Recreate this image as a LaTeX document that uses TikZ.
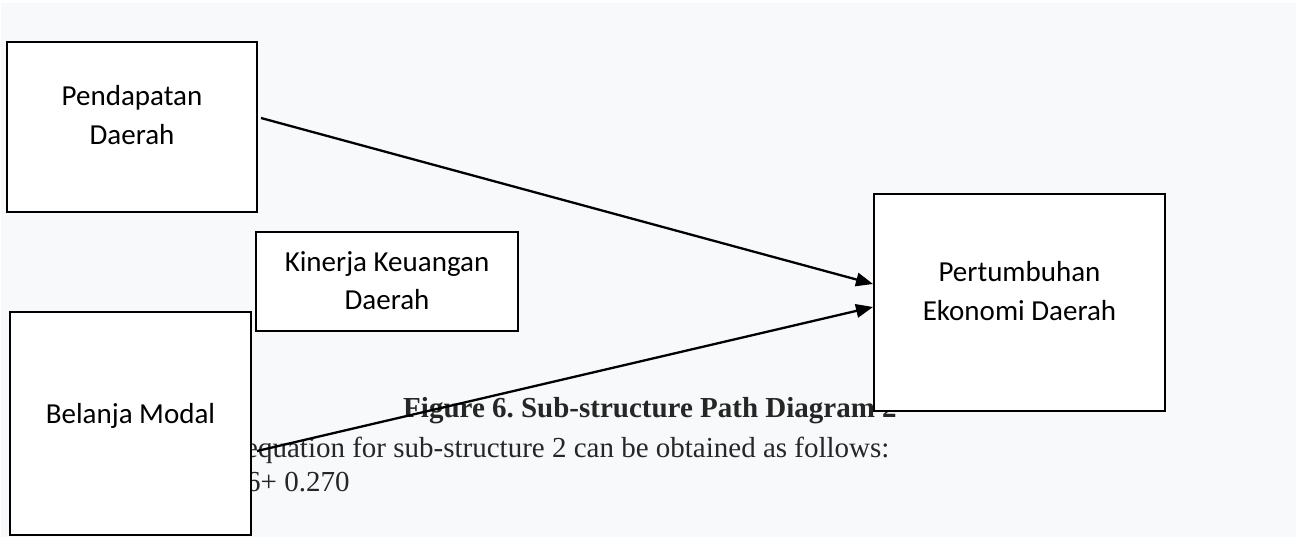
\documentclass[tikz,border=0pt]{standalone}
\usepackage{fontspec}
\setmainfont{Liberation Serif}
\newfontfamily\boxfont{Carlito}
\usetikzlibrary{arrows.meta}
\definecolor{pagebg}{HTML}{F8F9FA}
\definecolor{bodytext}{HTML}{262626}
\frenchspacing
\begin{document}
\begin{tikzpicture}[x=1pt,y=-1pt,
  varbox/.style={draw=black, line width=2pt, fill=white, inner sep=0pt},
  boxtext/.style={inner sep=0pt, align=center, anchor=base,
    font=\boxfont\fontsize{29pt}{39pt}\selectfont},
  bodyline/.style={inner sep=0pt, anchor=base west, text=bodytext,
    font=\fontsize{29pt}{34pt}\selectfont},
  conn/.style={line width=2.3pt, -{Triangle[length=17pt,width=13.5pt]}}]

% page background
\fill[white] (0,0) rectangle (1296,537);
\fill[pagebg] (1,3) rectangle (1296,537);
\useasboundingbox (0,0) rectangle (1296,537);

% running text behind the boxes
\node[inner sep=0pt, anchor=base, text=bodytext,
  font=\bfseries\fontsize{29pt}{34pt}\selectfont] (cap) at (650,417)
  {Figure 6. Sub-structure Path Diagram 2};
\node[bodyline] (eq1) at (245,457) {equation for sub-structure 2 can be obtained as follows:};
\node[bodyline] (eq2) at (246,491) {6+ 0.270};

% variable boxes
\node[varbox, minimum width=250pt, minimum height=170pt] (pd) at (132,127) {};
\node[varbox, minimum width=262pt, minimum height=99pt] (kk) at (387,281.5) {};
\node[varbox, minimum width=241pt, minimum height=223pt] (bm) at (130.5,423.5) {};
\node[varbox, minimum width=291pt, minimum height=217pt] (pe) at (1019.5,302.5) {};

% box labels (base anchor sits on the last line)
\node[boxtext] (pdt) at (132,145) {Pendapatan\\Daerah};
\node[boxtext] (kkt) at (387,310) {Kinerja Keuangan\\Daerah};
\node[boxtext] (bmt) at (130.5,423) {Belanja Modal};
\node[boxtext] (pet) at (1019.5,320) {Pertumbuhan\\Ekonomi Daerah};

% paths
\draw[conn] ([xshift=3pt,yshift=9pt]pd.east) -- ([yshift=18.5pt]pe.west);
\draw[conn] ([xshift=5pt,yshift=-27.5pt]bm.east) -- ([yshift=-4.5pt]pe.west);
\end{tikzpicture}
\end{document}
